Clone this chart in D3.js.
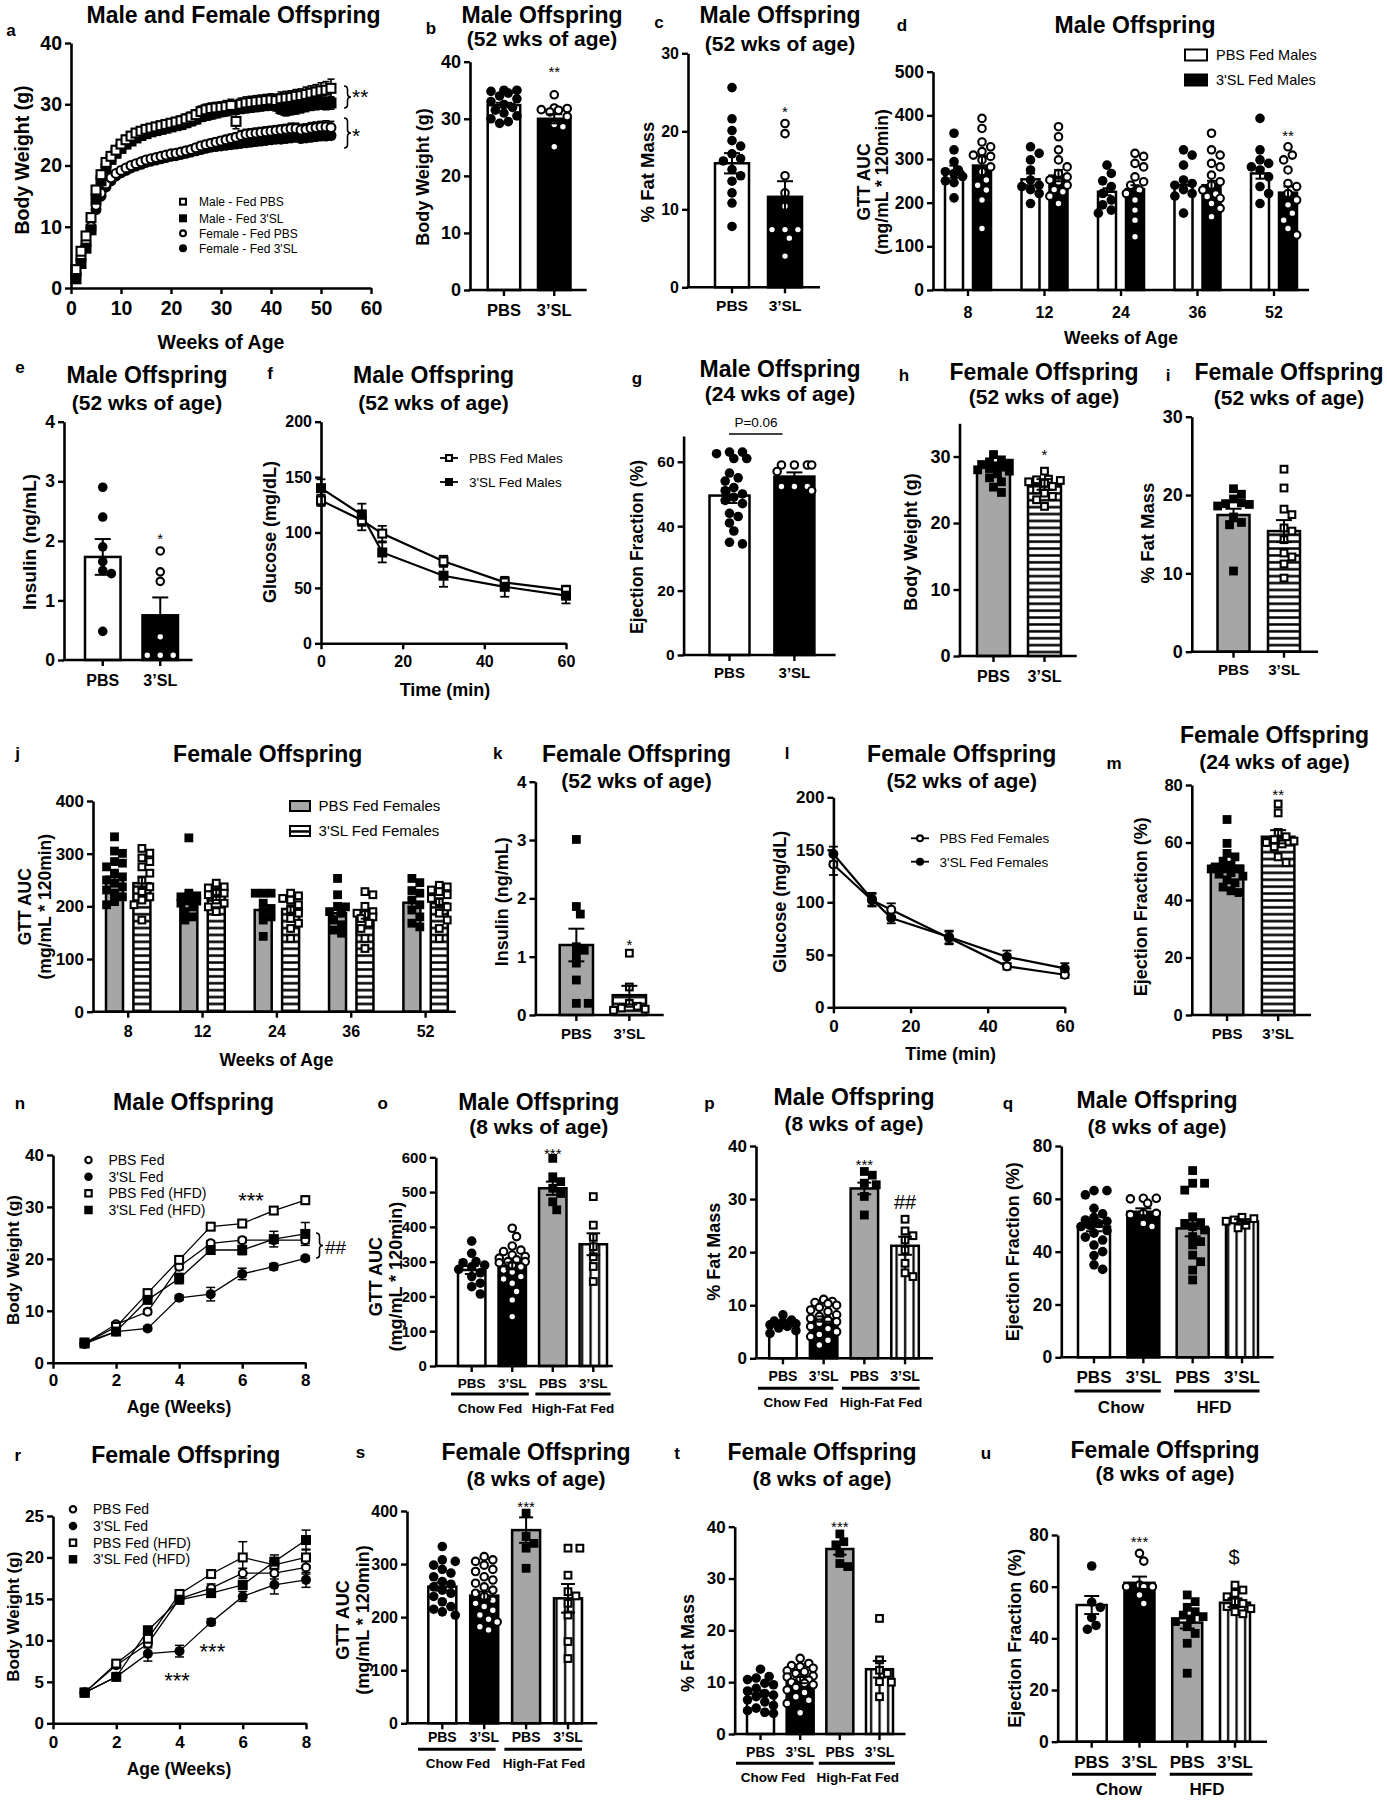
<!DOCTYPE html>
<html><head><meta charset="utf-8">
<script src="https://cdnjs.cloudflare.com/ajax/libs/d3/7.8.5/d3.min.js"></script>
<style>body{margin:0;background:#fff}</style>
</head><body>
<script>
// ---------------- DATA ----------------
// a
const a_weeks = [1,2,3,4,5,6,7,8,9,10,11,12,13,14,15,16,17,18,19,20,21,22,23,24,25,26,27,28,29,30,31,32,33,34,35,36,37,38,39,40,41,42,43,44,45,46,47,48,49,50,51,52];
const a_malePBS = [3.0,6.0,8.5,11.5,16.0,18.5,20.5,21.5,22.5,23.5, 24.2,24.8,25.3,25.6,25.9,26.1,26.3,26.5,26.7,26.9, 27.1,27.3,27.6,27.9,28.3,28.8,29.1,29.3,29.4,29.5, 29.6,29.8,27.2,30.0,30.2,30.3,30.4,30.5,30.6,30.7, 30.6,30.9,31.0,31.1,31.3,31.4,31.6,31.8,32.0,32.2, 32.3,32.6];
const a_male3SL = [1.5,4.0,6.5,9.5,14.5,17.5,19.5,21.0,22.0,22.8, 23.5,24.0,24.5,24.9,25.2,25.5,25.7,25.9,26.1,26.3, 26.5,26.7,27.0,27.3,27.6,28.0,28.2,28.4,28.6,28.8, 29.0,29.2,29.3,29.4,29.5,29.6,29.7,29.8,29.9,30.0, 29.8,29.3,29.0,29.2,29.4,29.6,29.8,30.0,30.1,30.2, 30.1,30.2];
const a_femalePBS = [2.5,5.0,7.5,10.0,13.5,15.5,17.0,18.0,18.7,19.2, 19.6,20.0,20.3,20.6,20.9,21.1,21.3,21.5,21.7,21.9, 22.0,22.2,22.4,22.6,22.9,23.2,23.4,23.6,23.8,24.0, 24.2,24.4,24.6,24.9,25.1,25.2,25.3,25.4,25.5,25.6, 25.7,25.8,25.9,26.0,26.0,25.8,25.9,26.1,26.2,26.3, 26.3,26.2];
const a_female3SL = [2.0,4.5,7.0,9.5,12.8,15.0,16.5,17.5,18.3,18.8, 19.2,19.6,19.9,20.2,20.5,20.7,20.9,21.1,21.3,21.5, 21.6,21.8,22.0,22.2,22.4,22.6,22.8,23.0,23.1,23.2, 23.3,23.4,23.5,23.6,23.7,23.8,23.9,24.0,24.1,24.2, 24.3,24.3,24.4,24.5,24.6,24.4,24.5,24.6,24.7,24.8, 24.8,24.9];
const a_malePBS_sem = [0.3,0.4,0.5,0.6,0.7,0.7,0.7,0.7,0.7,0.7, 0.7,0.7,0.7,0.7,0.7,0.7,0.7,0.7,0.7,0.7, 0.7,0.8,0.8,0.8,0.8,0.9,0.9,0.9,0.9,0.9, 1.0,1.0,1.2,1.0,1.0,1.0,1.0,1.0,1.0,1.0, 1.0,1.1,1.1,1.1,1.1,1.1,1.2,1.2,1.2,1.3, 1.4,1.5];
const a_male3SL_sem = [0.3,0.4,0.5,0.6,0.7,0.7,0.7,0.7,0.7,0.7, 0.7,0.7,0.7,0.7,0.7,0.7,0.7,0.7,0.7,0.7, 0.7,0.8,0.8,0.8,0.8,0.8,0.8,0.8,0.8,0.8, 0.9,0.9,0.9,0.9,0.9,0.9,0.9,0.9,0.9,0.9, 0.9,0.9,0.9,0.9,1.0,1.0,1.0,1.0,1.0,1.0, 1.0,1.0];
const a_femalePBS_sem = [0.2,0.3,0.4,0.5,0.5,0.5,0.5,0.5,0.5,0.5, 0.5,0.5,0.5,0.5,0.5,0.5,0.5,0.5,0.5,0.5, 0.6,0.6,0.6,0.6,0.6,0.7,0.7,0.7,0.7,0.7, 0.7,0.7,0.7,0.8,0.8,0.8,0.8,0.8,0.8,0.8, 0.8,0.8,0.8,0.9,0.9,0.9,0.9,0.9,0.9,0.9, 1.0,1.0];
const a_female3SL_sem = [0.2,0.3,0.4,0.5,0.5,0.5,0.5,0.5,0.5,0.5, 0.5,0.5,0.5,0.5,0.5,0.5,0.5,0.5,0.5,0.5, 0.5,0.5,0.5,0.5,0.6,0.6,0.6,0.6,0.6,0.6, 0.6,0.6,0.6,0.6,0.6,0.6,0.6,0.6,0.6,0.6, 0.6,0.6,0.6,0.6,0.6,0.6,0.6,0.6,0.6,0.6, 0.6,0.6];
const a_legend = ["Male - Fed PBS", "Male - Fed 3'SL", "Female - Fed PBS", "Female - Fed 3'SL"];

const twoGroups = ["PBS", "3’SL"];
const fourGroups = ["PBS", "3’SL", "PBS", "3’SL"];
// b
const b_mean = [32.4, 30.0], b_sem = [0.4, 0.8];
const b_PBS = [35, 35, 34.8, 34.5, 34, 33.5, 33, 32.5, 32, 31.5, 31, 30.5, 30, 29.5, 29.2];
const b_3SL = [34.2, 31.9, 31.8, 31.6, 31.5, 31.2, 30.4, 29, 28.6, 25.1];
// c
const c_mean = [15.9, 11.6], c_sem = [1.3, 2.0];
const c_PBS = [25.6, 21.6, 20.1, 18.8, 18.1, 17.1, 16.5, 16.2, 15.1, 14.3, 13.6, 12.1, 10.8, 7.8];
const c_3SL = [21.0, 19.7, 14.3, 12.1, 10.4, 7.4, 7.4, 7.4, 6.3, 4.0];
// d
const d_weeks = ["8", "12", "24", "36", "52"];
const d_PBS_mean = [271, 253.5, 225, 240, 267], d_PBS_sem = [14, 13.5, 8, 10, 12];
const d_3SL_mean = [285, 262, 231, 240, 223], d_3SL_sem = [22, 13, 9, 10, 14];
const d_PBS_pts = [[359,321,294,275,271,267,260,250,246,211],[328,313,298,275,252,240,237,230,221,198],[286,267,250,237,221,206,195,183,176],[321,309,286,252,244,240,230,221,215,176],[393,321,298,290,282,275,259,237,221,198]];
const d_3SL_pts = [[393,370,339,328,317,309,306,298,282,271,252,240,229,206,141],[374,351,321,298,282,267,259,252,248,240,230,225,215,198],[313,306,290,282,259,248,240,229,221,206,183,160,122],[359,321,309,290,282,263,248,240,229,220,214,210,198,187,168],[328,309,298,275,244,237,221,206,195,176,160,141,126]];
// e
const e_mean = [1.73, 0.75], e_sem = [0.3, 0.3];
const e_PBS = [2.9, 2.4, 1.9, 1.65, 1.5, 1.45, 0.48];
const e_3SL = [1.83, 1.48, 1.32, 0.39, 0.08, 0.08, 0.08];
// f
const f_time = [0, 10, 15, 30, 45, 60];
const f_PBS = [129, 111, 99, 74, 55, 48], f_PBS_err = [5, 9, 7, 5, 4, 4];
const f_3SL = [140, 116, 82, 61, 51, 43], f_3SL_err = [8, 10, 9, 10, 9, 7];
// g
const g_mean = [49.5, 55.4], g_sem = [2.3, 1.3];
const g_PBS = [63, 63, 62.5, 61, 61, 56.5, 55, 54, 52, 51, 50, 49, 48, 47, 44, 43, 41, 38.5, 35, 34.5];
const g_3SL = [59, 59, 59, 59, 57, 52.3, 52.3, 52.3, 51];
// h
const h_mean = [28.3, 25.8], h_sem = [0.45, 0.8];
const h_PBS = [30.3, 29.5, 29.2, 29, 28.8, 28.6, 28.4, 28.2, 28, 27.8, 27.4, 26.8, 26.2, 25.4, 24.6];
const h_3SL = [27.8, 26.6, 26.5, 26.4, 26.2, 26, 25.5, 25, 24.5, 24, 23.5, 22.5];
// i
const i_mean = [17.45, 15.4], i_sem = [0.8, 1.4];
const i_PBS = [20.8, 20.1, 19.5, 19, 18.9, 18.8, 18.6, 17.2, 16.5, 16.2, 10.3];
const i_3SL = [23.3, 20.9, 18.2, 17.5, 15.8, 15.4, 14.3, 12.6, 12.1, 11.2, 9.4];
// j
const j_weeks = ["8", "12", "24", "36", "52"];
const j_PBS_mean = [256, 215, 193, 187, 207], j_PBS_sem = [10, 11, 9, 6, 8];
const j_3SL_mean = [244, 221.5, 195, 183.6, 206], j_3SL_sem = [11, 9.5, 7, 7, 8];
const j_PBS_pts = [[332,305,300.6,285,282,275,263,256,250,244,237,231,225,218,209,203],[330,225,220,218,212,210,206,199,190,180,174],[225,225,225,206,196,190,180,174,143],[253,222,200,199,190,187,174,165,155,149],[253,245,230,225,212,203,193,180,168,161]];
const j_3SL_pts = [[310,301,292,285,275,263,250,237,228,218,212,203,174],[244,237,235,228,225,222,212,206,199,190],[225,220,215,212,203,193,187,177,168,158,139],[228,222,200,190,187,185,180,177,168,158,139,120],[240,237,231,228,222,215,209,199,187,174,158,139]];
// k
const k_mean = [1.2, 0.34], k_sem = [0.28, 0.16];
const k_PBS = [3.01, 1.86, 1.73, 1.17, 1.11, 1.03, 0.89, 0.6, 0.2, 0.2];
const k_3SL = [1.06, 0.48, 0.2, 0.15, 0.12, 0.1, 0.08];
// l
const l_time = [0, 10, 15, 30, 45, 60];
const l_PBS = [136, 102, 93, 66, 39, 31], l_PBS_err = [10, 6, 6, 6, 3, 3];
const l_3SL = [146, 103, 85, 67, 48, 37], l_3SL_err = [7, 6, 5, 6, 6, 5];
// m
const m_mean = [51.9, 62.0], m_sem = [1.4, 2.3];
const m_PBS = [68, 59.7, 56.2, 55, 53.5, 52, 51.5, 50.8, 50.8, 50.8, 49.5, 49, 48.3, 47, 46, 44.5, 43.2, 42.6];
const m_3SL = [73.4, 70.3, 63.5, 62, 61, 60.5, 60, 59.5, 58.5, 55, 53];
// n
const n_age = [1, 2, 3, 4, 5, 6, 7, 8];
const n_PBS = [3.7, 7.4, 9.8, 18.5, 23.0, 23.6, 23.6, 23.6], n_PBS_err = [0.3, 0.4, 0.5, 0.6, 0.5, 0.5, 0.6, 0.6];
const n_3SL = [3.6, 6.0, 6.6, 12.5, 13.2, 17.1, 18.5, 20.1], n_3SL_err = [0.3, 0.3, 0.4, 0.5, 1.3, 1.1, 0.6, 0.5];
const n_PBS_HFD = [3.7, 6.9, 13.4, 19.8, 26.2, 26.8, 29.3, 31.3], n_PBS_HFD_err = [0.3, 0.4, 0.5, 0.6, 0.6, 0.6, 0.7, 0.8];
const n_3SL_HFD = [3.9, 6.0, 12.1, 16.2, 21.7, 21.7, 23.8, 24.8], n_3SL_HFD_err = [0.3, 0.3, 0.6, 1.0, 0.8, 0.9, 1.5, 2.2];
const nr_legend = ["PBS Fed", "3'SL Fed", "PBS Fed (HFD)", "3'SL Fed (HFD)"];
// o
const o_mean = [276, 287.5, 511, 350], o_sem = [11.5, 9.5, 19, 31.5];
const o_pts = [[359,324,300,297,290,285,278,268,257,238,228,207],[396,372,345,333,329,319,315,310,305,300,300,297,290,285,276,270,257,250,238,214,190,142],[597,544,530,511,496,472,449],[487,405,370,343,314,286,243]];
// p
const p_mean = [6.3, 7.4, 32.0, 21.2], p_sem = [0.35, 0.5, 1.1, 1.7];
const p_pts = [[8.2,7.2,7.0,6.8,6.5,6.3,6.0,5.7,5.2,4.7],[11.1,10.7,10.5,10.3,10.0,9.6,9.1,8.8,8.2,7.9,7.5,7.2,6.9,6.6,6.0,5.6,5.0,4.5,4.1,3.4,2.5],[35.2,34.5,33.0,32.7,30.5,27.0],[26.2,24.0,23.1,22.3,20.4,17.9,16.1,15.4]];
// q
const q_mean = [49.5, 55.1, 48.8, 51.4], q_sem = [1.8, 1.3, 3.0, 0.9];
const q_pts = [[63.1,63.1,61.5,56.4,54.3,53,52,51.5,50.7,50,49.5,48,47,45.5,44.4,42.5,40,38.5,35,33.3],[60.2,60.2,60,58.3,54.5,54.5,54,50.7,49.5],[70.7,65.9,65.9,63.3,53.2,51,50.7,49.5,48.2,45.7,43.8,42.5,38.7,36.2,33,29.3],[53,52.5,52,51.5,50,49]];
// r
const r_age = [1, 2, 3, 4, 5, 6, 7, 8];
const r_PBS = [3.7, 7.0, 9.6, 15.0, 16.3, 18.1, 18.1, 18.8], r_PBS_err = [0.2, 0.3, 0.5, 0.5, 0.5, 0.6, 0.7, 0.8];
const r_3SL = [3.7, 5.6, 8.4, 8.7, 12.2, 15.3, 16.7, 17.3], r_3SL_err = [0.2, 0.3, 0.9, 0.7, 0.4, 0.6, 1.1, 0.9];
const r_PBS_HFD = [3.7, 7.2, 10.2, 15.6, 18.0, 20.0, 19.1, 20.0], r_PBS_HFD_err = [0.2, 0.3, 0.5, 0.4, 0.5, 1.9, 0.8, 1.0];
const r_3SL_HFD = [3.7, 5.6, 11.2, 14.9, 15.7, 16.7, 19.5, 22.1], r_3SL_HFD_err = [0.2, 0.3, 0.5, 0.5, 0.4, 0.5, 0.8, 1.2];
// s
const s_mean = [257.5, 240.5, 364, 235.5], s_sem = [7.5, 7.5, 24, 27];
const s_pts = [[333,308,305,298,290,283,276,267,262,257,251,245,239,229,220,215,210,204],[314,308,305,298,290,286,276,270,264,257,251,245,239,232,226,220,213,204,196,191,182,176],[396,352,339,330,292],[330,330,279,248,240,226,204,154,122]];
// t
const t_mean = [7.8, 10.4, 35.7, 12.5], t_sem = [0.6, 0.6, 1.1, 1.6];
const t_pts = [[12.5,11.1,10.8,10.5,9.8,9.5,8.8,8.3,7.8,7.5,7.2,6.6,6.2,5.5,5,4.5,4.2,4.0],[14.6,13.6,13.2,13.0,12.7,12.2,12.0,11.7,11.2,11.0,10.7,10.4,10.0,9.8,9.5,9.0,8.5,8.0,7.2,6.5,5.9,4.1],[38.6,37.1,36.5,34.9,32.9,32.3],[22.3,14.3,12.3,11.7,10.1,10.0,7.2]];
// u
const u_mean = [52.9, 61.5, 46.1, 53.8], u_sem = [3.5, 2.4, 2.3, 1.7];
const u_pts = [[68,54,52,48,45,43.5],[72.9,69.9,60.6,60,60,60,56.8,53.5],[56.8,54.2,52,50.3,49,48.4,47.5,46.5,44.5,41.9,38.1,26.5],[60.6,58.7,57.4,56.1,54.2,53.5,52.3,51.5,50.3,49.5]];

// ---------------- DRAWING ----------------
const FONT = '"Liberation Sans", Arial, Helvetica, sans-serif';
const svg = d3.select('body').append('svg').attr('width', 1387).attr('height', 1800)
  .attr('font-family', FONT).style('background', '#fff');
svg.append('rect').attr('width', 1387).attr('height', 1800).attr('fill', '#fff');
const defs = svg.append('defs');
const hp = defs.append('pattern').attr('id', 'hstripe').attr('patternUnits', 'userSpaceOnUse').attr('width', 10).attr('height', 6.9);
hp.append('rect').attr('width', 10).attr('height', 6.9).attr('fill', '#fff');
hp.append('rect').attr('width', 10).attr('height', 2.5).attr('y', 2.2).attr('fill', '#000');
const vp = defs.append('pattern').attr('id', 'vstripe').attr('patternUnits', 'userSpaceOnUse').attr('width', 8.5).attr('height', 10);
vp.append('rect').attr('width', 8.5).attr('height', 10).attr('fill', '#fff');
vp.append('rect').attr('width', 2.2).attr('height', 10).attr('x', 3).attr('fill', '#000');

function T(x, yc, s, fs, o = {}) {
  let tr = `translate(${x},${yc})`;
  if (o.r) tr += ' rotate(-90)';
  if (o.k) tr += ` scale(${o.k},1)`;
  return svg.append('text').attr('transform', tr).attr('x', 0).attr('y', (o.b ?? 0.36) * fs)
    .attr('font-size', fs).attr('font-weight', o.w || 'bold').attr('text-anchor', o.a || 'middle')
    .attr('fill', '#000').text(s);
}
function title(x, y1, l1, y2, l2) { T(x, y1, l1, 23); if (l2) T(x, y2, l2, 21); }
function letter(x, y, s) { T(x, y, s, 17); }

function mk(g, x, y, shape, size) {
  const filled = shape[0] === 'f';
  const sw = 2.1;
  if (shape[1] === 'c') {
    g.append('circle').attr('cx', x).attr('cy', y).attr('r', filled ? size / 2 : size / 2 - sw / 2)
      .attr('fill', filled ? '#000' : '#fff').attr('stroke', '#000').attr('stroke-width', filled ? 0 : sw);
  } else {
    const s = filled ? size : size - sw;
    g.append('rect').attr('x', x - s / 2).attr('y', y - s / 2).attr('width', s).attr('height', s)
      .attr('fill', filled ? '#000' : '#fff').attr('stroke', '#000').attr('stroke-width', filled ? 0 : sw);
  }
}
function ebar(g, x, yTop, yBottom, cap, sw) {
  g.append('line').attr('x1', x).attr('x2', x).attr('y1', yTop).attr('y2', yBottom).attr('stroke', '#000').attr('stroke-width', sw);
  [yTop, yBottom].forEach(yy => g.append('line').attr('x1', x - cap / 2).attr('x2', x + cap / 2).attr('y1', yy).attr('y2', yy).attr('stroke', '#000').attr('stroke-width', sw));
}
function swarm(vals, y, r, maxHalf) {
  const idx = vals.map((v, i) => i).sort((a, b) => vals[b] - vals[a]);
  const placed = [], off = new Array(vals.length).fill(0);
  idx.forEach(i => {
    const py = y(vals[i]);
    let best = 0, bestScore = -Infinity, done = false;
    for (let k = 0; k <= 14 && !done; k++) {
      const cands = k === 0 ? [0] : [k * r * 0.9, -k * r * 0.9];
      for (const ox of cands) {
        if (Math.abs(ox) > maxHalf) continue;
        let minD = Infinity;
        placed.forEach(p => { const dd = Math.hypot(p.x - ox, p.y - py); if (dd < minD) minD = dd; });
        if (minD >= 2 * r * 0.92) { best = ox; done = true; break; }
        if (minD > bestScore) { bestScore = minD; best = ox; }
      }
    }
    off[i] = best; placed.push({ x: best, y: py });
  });
  return off;
}
function styleAxis(a, fs) {
  a.attr('font-family', null).attr('font-size', null);
  a.select('.domain').attr('stroke', '#000').attr('stroke-width', 2.6);
  a.selectAll('.tick line').attr('stroke', '#000').attr('stroke-width', 2.4);
  a.selectAll('.tick text').attr('fill', '#000').attr('font-size', fs).attr('font-weight', 'bold');
}
function yAxis(g, y, x0, ticks, fs) {
  const a = g.append('g').attr('transform', `translate(${x0},0)`)
    .call(d3.axisLeft(y).tickValues(ticks).tickSize(6).tickPadding(3).tickSizeOuter(0).tickFormat(d3.format('d')));
  styleAxis(a, fs);
}
function ylab(c) {
  if (!c) return;
  T(c.x, c.y, c.t, c.fs, { r: 1 });
  if (c.t2) T(c.x2, c.y, c.t2, c.fs, { r: 1 });
}
function fillOf(f) { return { white: '#fff', black: '#000', gray: '#a6a6a6', hstripe: 'url(#hstripe)', vstripe: 'url(#vstripe)' }[f]; }
function padIn(n, L, R, w) { return n > 1 ? ((R - L) - w * n) / ((R - L) - w) : 0; }
function sizeOf(shape) { return shape[1] === 'c' ? 9.6 : 8.8; }

function drawBars(g, x0, bw, y, means, sems, fills, pts, shapes) {
  means.forEach((m, i) => {
    g.append('rect').attr('x', x0[i]).attr('y', y(m)).attr('width', bw).attr('height', y(0) - y(m))
      .attr('fill', fillOf(fills[i])).attr('stroke', '#000').attr('stroke-width', 2.5);
  });
  means.forEach((m, i) => {
    const cx = x0[i] + bw / 2, sz = sizeOf(shapes[i]);
    const off = swarm(pts[i], y, sz / 2, bw / 2 + 1);
    pts[i].forEach((v, j) => mk(g, cx + off[j], y(v), shapes[i], sz));
  });
  means.forEach((m, i) => {
    const cx = x0[i] + bw / 2;
    ebar(g, cx, y(m + sems[i]), y(Math.max(0, m - sems[i])), Math.min(bw * 0.5, 16), 2);
  });
}

function barPanel(c) {
  const g = svg.append('g');
  const ids = c.labels.map((d, i) => 'c' + i);
  const y = d3.scaleLinear().domain([0, c.ymax]).range([c.yBot, c.yTop]);
  const x = d3.scaleBand().domain(ids).range([c.L, c.R]).paddingInner(padIn(ids.length, c.L, c.R, c.w));
  const bw = x.bandwidth();
  drawBars(g, ids.map(id => x(id)), bw, y, c.means, c.sems, c.fills, c.pts, c.shapes);
  yAxis(g, y, c.ax0, c.yticks, c.tfs);
  const p = (c.labY - c.yBot) - 6 - 0.352 * c.lfs;
  const xa = g.append('g').attr('transform', `translate(0,${c.yBot})`)
    .call(d3.axisBottom(x).tickSize(6).tickPadding(p).tickSizeOuter(0).tickFormat((d, i) => c.labels[i]));
  xa.select('.domain').remove();
  styleAxis(xa, c.lfs);
  g.append('line').attr('x1', c.ax0 - 1.3).attr('x2', c.ax1).attr('y1', c.yBot).attr('y2', c.yBot).attr('stroke', '#000').attr('stroke-width', 2.6);
  (c.stars || []).forEach(s => T(x(ids[s.i]) + bw / 2 + (s.dx || 0), s.y, s.t, s.fs || 15, { w: s.w || 'normal', b: s.b ?? 0.57 }));
  if (c.under) {
    c.under.segs.forEach((sg, i) => {
      g.append('line').attr('x1', sg[0]).attr('x2', sg[1]).attr('y1', c.under.y).attr('y2', c.under.y).attr('stroke', '#000').attr('stroke-width', 3);
      T(c.under.lx[i], c.under.ly, c.under.labels[i], c.under.fs);
    });
  }
  ylab(c.ylab);
}

function groupPanel(c) {
  const g = svg.append('g');
  const y = d3.scaleLinear().domain([0, c.ymax]).range([c.yBot, c.yTop]);
  const x = d3.scaleBand().domain(c.groups).range([c.L, c.R]).paddingInner(padIn(c.groups.length, c.L, c.R, c.gw));
  const xi = d3.scaleBand().domain(['PBS', '3SL']).range([0, x.bandwidth()]).paddingInner(padIn(2, 0, x.bandwidth(), c.bw));
  const bw = xi.bandwidth();
  c.groups.forEach((gr, k) => {
    drawBars(g, [x(gr) + xi('PBS'), x(gr) + xi('3SL')], bw, y,
      [c.means[0][k], c.means[1][k]], [c.sems[0][k], c.sems[1][k]], c.fills, [c.pts[0][k], c.pts[1][k]], c.shapes);
  });
  yAxis(g, y, c.ax0, c.yticks, c.tfs);
  const p = (c.labY - c.yBot) - 6 - 0.352 * c.lfs;
  const xa = g.append('g').attr('transform', `translate(0,${c.yBot})`)
    .call(d3.axisBottom(x).tickSize(6).tickPadding(p).tickSizeOuter(0));
  xa.select('.domain').remove();
  styleAxis(xa, c.lfs);
  g.append('line').attr('x1', c.ax0 - 1.3).attr('x2', c.ax1).attr('y1', c.yBot).attr('y2', c.yBot).attr('stroke', '#000').attr('stroke-width', 2.6);
  (c.stars || []).forEach(s => T(x(c.groups[s.g]) + xi(s.b) + bw / 2, s.y, s.t, 15, { w: 'normal', b: 0.57 }));
  c.legend.labels.forEach((lab, i) => {
    const ly = c.legend.ys[i];
    g.append('rect').attr('x', c.legend.x).attr('y', ly - c.legend.h / 2).attr('width', c.legend.w).attr('height', c.legend.h)
      .attr('fill', fillOf(c.fills[i])).attr('stroke', '#000').attr('stroke-width', 2);
    T(c.legend.tx, ly, lab, c.legend.fs, { w: 'normal', a: 'start' });
  });
  T(c.xlab.x, c.xlab.y, c.xlab.t, c.xlab.fs);
  ylab(c.ylab);
}

function linePanel(c) {
  const g = svg.append('g');
  const x = d3.scaleLinear().domain(c.xdom).range([c.x0, c.x1]);
  const y = d3.scaleLinear().domain(c.ydom).range([c.yBot, c.yTop]);
  if (c.lw) c.series.forEach(s => g.append('path').datum(s.vals)
    .attr('d', d3.line().x((v, i) => x(c.xs[i])).y(v => y(v))).attr('fill', 'none').attr('stroke', '#000').attr('stroke-width', c.lw));
  c.series.forEach(s => s.vals.forEach((v, i) => ebar(g, x(c.xs[i]), y(v + s.errs[i]), y(v - s.errs[i]), c.cap, c.ew)));
  c.series.forEach(s => s.vals.forEach((v, i) => mk(g, x(c.xs[i]), y(v), s.shape, c.ms)));
  const p = (c.labY - c.yBot) - 6 - 0.352 * c.tfs;
  const xa = g.append('g').attr('transform', `translate(0,${c.yBot})`)
    .call(d3.axisBottom(x).tickValues(c.xticks).tickSize(6).tickPadding(p).tickSizeOuter(0).tickFormat(d3.format('d')));
  styleAxis(xa, c.tfs);
  yAxis(g, y, c.x0, c.yticks, c.tfs);
  if (c.legend) {
    const L = c.legend;
    c.series.forEach((s, i) => {
      if (L.line) g.append('line').attr('x1', L.x - 9).attr('x2', L.x + 9).attr('y1', L.ys[i]).attr('y2', L.ys[i]).attr('stroke', '#000').attr('stroke-width', 1.8);
      mk(g, L.x, L.ys[i], s.shape, L.ms);
      T(L.tx, L.ys[i], L.labels[i], L.fs, { w: 'normal', a: 'start' });
    });
  }
  T(c.xlab.x, c.xlab.y, c.xlab.t, c.xlab.fs);
  ylab(c.ylab);
}
function brace(x, y1, y2, w) {
  const ym = (y1 + y2) / 2, q = w / 2;
  svg.append('path').attr('d', `M${x},${y1} Q${x + q},${y1} ${x + q},${y1 + q} L${x + q},${ym - q} Q${x + q},${ym} ${x + w},${ym} Q${x + q},${ym} ${x + q},${ym + q} L${x + q},${y2 - q} Q${x + q},${y2} ${x},${y2}`)
    .attr('fill', 'none').attr('stroke', '#000').attr('stroke-width', 1.6);
}

// ===== Panel a =====
title(233.5, 15, 'Male and Female Offspring'); letter(11, 30, 'a');
linePanel({ x0: 71, x1: 371, xdom: [0, 60], yBot: 288, yTop: 43, ydom: [0, 40], xs: a_weeks,
  xticks: [0, 10, 20, 30, 40, 50, 60], yticks: [0, 10, 20, 30, 40], tfs: 19.5, labY: 308, cap: 7, ew: 1.6, ms: 11, lw: 0,
  series: [
    { vals: a_female3SL, errs: a_female3SL_sem, shape: 'fc' },
    { vals: a_femalePBS, errs: a_femalePBS_sem, shape: 'oc' },
    { vals: a_male3SL, errs: a_male3SL_sem, shape: 'fs' },
    { vals: a_malePBS, errs: a_malePBS_sem, shape: 'os' }],
  xlab: { x: 221, y: 342, t: 'Weeks of Age', fs: 19.5 },
  ylab: { x: 22, y: 160, t: 'Body Weight (g)', fs: 19.5 } });
const aLegY = [201.7, 218.3, 233.3, 248.3], aLegS = ['os', 'fs', 'oc', 'fc'];
a_legend.forEach((lab, i) => { mk(svg, 183, aLegY[i], aLegS[i], 8); T(199, aLegY[i], lab, 12, { w: 'normal', a: 'start' }); });
brace(344, 86, 108, 7); T(352, 92, '**', 21, { w: 'normal', a: 'start', b: 0.57 });
brace(344, 118, 148, 7); T(352, 131, '*', 21, { w: 'normal', a: 'start', b: 0.57 });

// ===== Panel b =====
title(542, 15, 'Male Offspring', 38, '(52 wks of age)'); letter(431, 28, 'b');
barPanel({ ax0: 470, ax1: 586.7, yBot: 290, yTop: 61.7, ymax: 40, yticks: [0, 10, 20, 30, 40], L: 487.7, R: 570.5, w: 32.5,
  labels: twoGroups, means: b_mean, sems: b_sem, fills: ['white', 'black'], pts: [b_PBS, b_3SL], shapes: ['fc', 'oc'],
  tfs: 18, lfs: 16.5, labY: 310, stars: [{ i: 1, t: '**', y: 68 }], ylab: { x: 423, y: 177, t: 'Body Weight (g)', fs: 18 } });

// ===== Panel c =====
title(780, 15, 'Male Offspring', 43, '(52 wks of age)'); letter(659, 22, 'c');
barPanel({ ax0: 688, ax1: 820, yBot: 287.3, yTop: 53.3, ymax: 30, yticks: [0, 10, 20, 30], L: 715, R: 802, w: 34,
  labels: twoGroups, means: c_mean, sems: c_sem, fills: ['white', 'black'], pts: [c_PBS, c_3SL], shapes: ['fc', 'oc'],
  tfs: 16, lfs: 15.5, labY: 305, stars: [{ i: 1, t: '*', y: 108 }], ylab: { x: 647, y: 172, t: '% Fat Mass', fs: 18.5 } });

// ===== Panel d =====
T(1135, 25, 'Male Offspring', 23); letter(902, 25, 'd');
groupPanel({ ax0: 933, ax1: 1309, yBot: 290, yTop: 71.7, ymax: 500, yticks: [0, 100, 200, 300, 400, 500],
  L: 945, R: 1297, gw: 46, bw: 18, groups: d_weeks, means: [d_PBS_mean, d_3SL_mean], sems: [d_PBS_sem, d_3SL_sem],
  pts: [d_PBS_pts, d_3SL_pts], fills: ['white', 'black'], shapes: ['fc', 'oc'], tfs: 17.5, lfs: 16, labY: 312,
  stars: [{ g: 4, b: '3SL', t: '**', y: 132 }],
  legend: { x: 1185, w: 22, h: 11, ys: [55, 80], tx: 1216, fs: 14.5, labels: ['PBS Fed Males', "3'SL Fed Males"] },
  xlab: { x: 1121, y: 338, t: 'Weeks of Age', fs: 17.5 },
  ylab: { x: 864, x2: 882, y: 182, t: 'GTT AUC', t2: '(mg/mL * 120min)', fs: 17.5 } });

// ===== Panel e =====
title(147, 375, 'Male Offspring', 402, '(52 wks of age)'); letter(20, 367, 'e');
barPanel({ ax0: 64, ax1: 192.5, yBot: 660, yTop: 421.7, ymax: 4, yticks: [0, 1, 2, 3, 4], L: 85, R: 178, w: 35.5,
  labels: twoGroups, means: e_mean, sems: e_sem, fills: ['white', 'black'], pts: [e_PBS, e_3SL], shapes: ['fc', 'oc'],
  tfs: 17.5, lfs: 16, labY: 680, stars: [{ i: 1, t: '*', y: 535 }], ylab: { x: 29, y: 542, t: 'Insulin (ng/mL)', fs: 19 } });

// ===== Panel f =====
title(433.5, 375, 'Male Offspring', 402, '(52 wks of age)'); letter(270, 373, 'f');
linePanel({ x0: 321, x1: 566, xdom: [0, 60], yBot: 643.3, yTop: 421.7, ydom: [0, 200], xs: f_time,
  xticks: [0, 20, 40, 60], yticks: [0, 50, 100, 150, 200], tfs: 16, labY: 661.7, cap: 9, ew: 1.8, ms: 10, lw: 2.2,
  series: [{ vals: f_PBS, errs: f_PBS_err, shape: 'os' }, { vals: f_3SL, errs: f_3SL_err, shape: 'fs' }],
  legend: { x: 449, tx: 469, ys: [458, 482], fs: 13.5, ms: 8, line: true, labels: ['PBS Fed Males', "3'SL Fed Males"] },
  xlab: { x: 445, y: 690, t: 'Time (min)', fs: 18 },
  ylab: { x: 270, y: 532, t: 'Glucose (mg/dL)', fs: 18 } });

// ===== Panel g =====
title(780, 368.3, 'Male Offspring', 393.3, '(24 wks of age)'); letter(637, 378, 'g');
barPanel({ ax0: 683.6, ax1: 835.6, yBot: 655, yTop: 436, ymax: 68, yticks: [0, 20, 40, 60], L: 709.5, R: 814.4, w: 40,
  labels: twoGroups, means: g_mean, sems: g_sem, fills: ['white', 'black'], pts: [g_PBS, g_3SL], shapes: ['fc', 'oc'],
  tfs: 15.5, lfs: 15, labY: 673, ylab: { x: 637, y: 547, t: 'Ejection Fraction (%)', fs: 17.5 } });
svg.append('line').attr('x1', 729).attr('x2', 782.5).attr('y1', 434).attr('y2', 434).attr('stroke', '#000').attr('stroke-width', 1.5);
T(756, 421.7, 'P=0.06', 13.5, { w: 'normal' });

// ===== Panel h =====
title(1044, 371.7, 'Female Offspring', 396.7, '(52 wks of age)'); letter(904, 375, 'h');
barPanel({ ax0: 959.5, ax1: 1076.7, yBot: 656, yTop: 423.3, ymax: 35, yticks: [0, 10, 20, 30], L: 977, R: 1061, w: 33,
  labels: twoGroups, means: h_mean, sems: h_sem, fills: ['gray', 'hstripe'], pts: [h_PBS, h_3SL], shapes: ['fs', 'os'],
  tfs: 18, lfs: 16, labY: 676.7, stars: [{ i: 1, t: '*', y: 451.7 }], ylab: { x: 911, y: 542, t: 'Body Weight (g)', fs: 18 } });

// ===== Panel i =====
title(1289, 371.7, 'Female Offspring', 397, '(52 wks of age)'); letter(1168, 375, 'i');
barPanel({ ax0: 1191.8, ax1: 1318, yBot: 651.7, yTop: 416.7, ymax: 30, yticks: [0, 10, 20, 30], L: 1217.5, R: 1300, w: 32,
  labels: twoGroups, means: i_mean, sems: i_sem, fills: ['gray', 'hstripe'], pts: [i_PBS, i_3SL], shapes: ['fs', 'os'],
  tfs: 18, lfs: 15, labY: 670, ylab: { x: 1147.5, y: 533, t: '% Fat Mass', fs: 18.5 } });

// ===== Panel j =====
T(267.7, 753.3, 'Female Offspring', 23); letter(17.7, 753, 'j');
groupPanel({ ax0: 93, ax1: 455.8, yBot: 1011.7, yTop: 801, ymax: 400, yticks: [0, 100, 200, 300, 400],
  L: 106, R: 447.8, gw: 44.4, bw: 17, groups: j_weeks, means: [j_PBS_mean, j_3SL_mean], sems: [j_PBS_sem, j_3SL_sem],
  pts: [j_PBS_pts, j_3SL_pts], fills: ['gray', 'hstripe'], shapes: ['fs', 'os'], tfs: 17, lfs: 16, labY: 1031.7,
  legend: { x: 290, w: 20, h: 10, ys: [806, 831], tx: 318.6, fs: 15, labels: ['PBS Fed Females', "3'SL Fed Females"] },
  xlab: { x: 276.5, y: 1060, t: 'Weeks of Age', fs: 17.5 },
  ylab: { x: 24.3, x2: 44.2, y: 906.7, t: 'GTT AUC', t2: '(mg/mL * 120min)', fs: 17.5 } });

// ===== Panel k =====
title(636.5, 753.3, 'Female Offspring', 780, '(52 wks of age)'); letter(497.8, 753, 'k');
barPanel({ ax0: 535.4, ax1: 663.7, yBot: 1015, yTop: 781.7, ymax: 4, yticks: [0, 1, 2, 3, 4], L: 559.7, R: 646, w: 33.3,
  labels: twoGroups, means: k_mean, sems: k_sem, fills: ['gray', 'hstripe'], pts: [k_PBS, k_3SL], shapes: ['fs', 'os'],
  tfs: 17, lfs: 15, labY: 1033.3, stars: [{ i: 1, t: '*', y: 941.7 }], ylab: { x: 502, y: 901.7, t: 'Insulin (ng/mL)', fs: 18 } });

// ===== Panel l =====
title(961.7, 753.3, 'Female Offspring', 780, '(52 wks of age)'); letter(787, 753, 'l');
linePanel({ x0: 833.4, x1: 1064.8, xdom: [0, 60], yBot: 1007.3, yTop: 797.3, ydom: [0, 200], xs: l_time,
  xticks: [0, 20, 40, 60], yticks: [0, 50, 100, 150, 200], tfs: 17, labY: 1026, cap: 9, ew: 1.8, ms: 10, lw: 2.2,
  series: [{ vals: l_PBS, errs: l_PBS_err, shape: 'oc' }, { vals: l_3SL, errs: l_3SL_err, shape: 'fc' }],
  legend: { x: 920, tx: 939.6, ys: [838.3, 861.7], fs: 13.5, ms: 8, line: true, labels: ['PBS Fed Females', "3'SL Fed Females"] },
  xlab: { x: 950.6, y: 1053.3, t: 'Time (min)', fs: 18 },
  ylab: { x: 780, y: 901.7, t: 'Glucose (mg/dL)', fs: 18 } });

// ===== Panel m =====
title(1274.5, 735, 'Female Offspring', 761.7, '(24 wks of age)'); letter(1114, 763, 'm');
barPanel({ ax0: 1191.8, ax1: 1311, yBot: 1015, yTop: 785, ymax: 80, yticks: [0, 20, 40, 60, 80], L: 1210.8, R: 1294.4, w: 32.5,
  labels: twoGroups, means: m_mean, sems: m_sem, fills: ['gray', 'hstripe'], pts: [m_PBS, m_3SL], shapes: ['fs', 'os'],
  tfs: 16.5, lfs: 15, labY: 1033.3, stars: [{ i: 1, t: '**', y: 791.7 }], ylab: { x: 1141, y: 906.7, t: 'Ejection Fraction (%)', fs: 18 } });

// ===== Panel n =====
T(193.6, 1101.7, 'Male Offspring', 23); letter(20, 1103, 'n');
linePanel({ x0: 53, x1: 305.3, xdom: [0, 8], yBot: 1362.7, yTop: 1155, ydom: [0, 40], xs: n_age,
  xticks: [0, 2, 4, 6, 8], yticks: [0, 10, 20, 30, 40], tfs: 17, labY: 1380, cap: 9, ew: 1.5, ms: 10, lw: 1.3,
  series: [{ vals: n_PBS, errs: n_PBS_err, shape: 'oc' }, { vals: n_3SL, errs: n_3SL_err, shape: 'fc' },
    { vals: n_PBS_HFD, errs: n_PBS_HFD_err, shape: 'os' }, { vals: n_3SL_HFD, errs: n_3SL_HFD_err, shape: 'fs' }],
  legend: { x: 88.5, tx: 108.4, ys: [1160, 1176.7, 1193.3, 1210], fs: 14, ms: 8.5, labels: nr_legend },
  xlab: { x: 179, y: 1406.7, t: 'Age (Weeks)', fs: 17.5 },
  ylab: { x: 13.3, y: 1260, t: 'Body Weight (g)', fs: 17 } });
T(251, 1195, '***', 22, { w: 'normal', b: 0.57 });
brace(316, 1233, 1258, 7); T(325, 1247, '##', 19, { w: 'normal', a: 'start' });

// ===== Panel o =====
title(538.7, 1101.7, 'Male Offspring', 1126.7, '(8 wks of age)'); letter(382.7, 1103, 'o');
barPanel({ ax0: 435.8, ax1: 612.8, yBot: 1366, yTop: 1157.3, ymax: 600, yticks: [0, 100, 200, 300, 400, 500, 600], L: 458, R: 607, w: 27.4,
  labels: fourGroups, means: o_mean, sems: o_sem, fills: ['white', 'black', 'gray', 'vstripe'], pts: o_pts, shapes: ['fc', 'oc', 'fs', 'os'],
  tfs: 15, lfs: 13.5, labY: 1383.3, stars: [{ i: 2, t: '***', y: 1150 }],
  under: { y: 1394, segs: [[451, 528.8], [535.4, 610.6]], labels: ['Chow Fed', 'High-Fat Fed'], lx: [489.9, 573], ly: 1408.3, fs: 13.5 },
  ylab: { x: 376, x2: 396, y: 1276.7, t: 'GTT AUC', t2: '(mg/mL * 120min)', fs: 18 } });

// ===== Panel p =====
title(854, 1096.7, 'Male Offspring', 1123.3, '(8 wks of age)'); letter(709.5, 1103, 'p');
barPanel({ ax0: 756, ax1: 933, yBot: 1358.3, yTop: 1146, ymax: 40, yticks: [0, 10, 20, 30, 40], L: 769.2, R: 918.8, w: 27.5,
  labels: fourGroups, means: p_mean, sems: p_sem, fills: ['white', 'black', 'gray', 'vstripe'], pts: p_pts, shapes: ['fc', 'oc', 'fs', 'os'],
  tfs: 17, lfs: 14, labY: 1376, stars: [{ i: 2, t: '***', y: 1161.7 }, { i: 3, t: '##', y: 1201.7, fs: 20, b: 0.36 }],
  under: { y: 1388.3, segs: [[758, 833.4], [842, 919.7]], labels: ['Chow Fed', 'High-Fat Fed'], lx: [795.7, 881], ly: 1401.7, fs: 13.5 },
  ylab: { x: 714, y: 1251.7, t: '% Fat Mass', fs: 18 } });

// ===== Panel q =====
title(1157, 1099.3, 'Male Offspring', 1126, '(8 wks of age)'); letter(1008, 1103, 'q');
barPanel({ ax0: 1061.3, ax1: 1273.7, yBot: 1357.3, yTop: 1146, ymax: 80, yticks: [0, 20, 40, 60, 80], L: 1078, R: 1258, w: 32,
  labels: fourGroups, means: q_mean, sems: q_sem, fills: ['white', 'black', 'gray', 'vstripe'], pts: q_pts, shapes: ['fc', 'oc', 'fs', 'os'],
  tfs: 17.5, lfs: 17, labY: 1376.7,
  under: { y: 1391, segs: [[1074.5, 1160.8], [1174, 1259.5]], labels: ['Chow', 'HFD'], lx: [1121, 1214], ly: 1406.7, fs: 17 },
  ylab: { x: 1012.6, y: 1251.7, t: 'Ejection Fraction (%)', fs: 18 } });

// ===== Panel r =====
T(185.8, 1455, 'Female Offspring', 23); letter(17.7, 1455, 'r');
linePanel({ x0: 53, x1: 306, xdom: [0, 8], yBot: 1723.3, yTop: 1516, ydom: [0, 25], xs: r_age,
  xticks: [0, 2, 4, 6, 8], yticks: [0, 5, 10, 15, 20, 25], tfs: 17, labY: 1741.7, cap: 9, ew: 1.5, ms: 10, lw: 1.3,
  series: [{ vals: r_PBS, errs: r_PBS_err, shape: 'oc' }, { vals: r_3SL, errs: r_3SL_err, shape: 'fc' },
    { vals: r_PBS_HFD, errs: r_PBS_HFD_err, shape: 'os' }, { vals: r_3SL_HFD, errs: r_3SL_HFD_err, shape: 'fs' }],
  legend: { x: 73, tx: 93, ys: [1509.3, 1526, 1542.7, 1559.3], fs: 14, ms: 8.5, labels: nr_legend },
  xlab: { x: 179, y: 1768.3, t: 'Age (Weeks)', fs: 17.5 },
  ylab: { x: 13.3, y: 1616.7, t: 'Body Weight (g)', fs: 17 } });
T(212.4, 1646.7, '***', 22, { w: 'normal', b: 0.57 });
T(177, 1675, '***', 22, { w: 'normal', b: 0.57 });

// ===== Panel s =====
title(536, 1451.7, 'Female Offspring', 1478.3, '(8 wks of age)'); letter(360.6, 1451.7, 's');
barPanel({ ax0: 407, ax1: 597.3, yBot: 1723.3, yTop: 1511, ymax: 400, yticks: [0, 100, 200, 300, 400], L: 428.3, R: 582, w: 28,
  labels: fourGroups, means: s_mean, sems: s_sem, fills: ['white', 'black', 'gray', 'vstripe'], pts: s_pts, shapes: ['fc', 'oc', 'fs', 'os'],
  tfs: 16, lfs: 14, labY: 1736.7, stars: [{ i: 2, t: '***', y: 1503 }],
  under: { y: 1749.3, segs: [[418, 495.6], [504.4, 582]], labels: ['Chow Fed', 'High-Fat Fed'], lx: [458, 544], ly: 1762.7, fs: 13.5 },
  ylab: { x: 343, x2: 363, y: 1620, t: 'GTT AUC', t2: '(mg/mL * 120min)', fs: 18 } });

// ===== Panel t =====
title(822, 1451.7, 'Female Offspring', 1478.3, '(8 wks of age)'); letter(677, 1453, 't');
barPanel({ ax0: 734.7, ax1: 905.5, yBot: 1734, yTop: 1526.7, ymax: 40, yticks: [0, 10, 20, 30, 40], L: 747, R: 893, w: 27,
  labels: fourGroups, means: t_mean, sems: t_sem, fills: ['white', 'black', 'gray', 'vstripe'], pts: t_pts, shapes: ['fc', 'oc', 'fs', 'os'],
  tfs: 17, lfs: 14, labY: 1751.7, stars: [{ i: 2, t: '***', y: 1523.3 }],
  under: { y: 1763.3, segs: [[736, 813.5], [818.8, 895]], labels: ['Chow Fed', 'High-Fat Fed'], lx: [773, 857.7], ly: 1776.7, fs: 13.5 },
  ylab: { x: 688, y: 1643, t: '% Fat Mass', fs: 18 } });

// ===== Panel u =====
title(1165, 1450, 'Female Offspring', 1473.3, '(8 wks of age)'); letter(986, 1453, 'u');
barPanel({ ax0: 1057.7, ax1: 1267, yBot: 1741.7, yTop: 1535, ymax: 80, yticks: [0, 20, 40, 60, 80], L: 1076.7, R: 1250, w: 30,
  labels: fourGroups, means: u_mean, sems: u_sem, fills: ['white', 'black', 'gray', 'vstripe'], pts: u_pts, shapes: ['fc', 'oc', 'fs', 'os'],
  tfs: 17.5, lfs: 17, labY: 1761.7, stars: [{ i: 1, t: '***', y: 1538 }, { i: 3, t: '$', y: 1556.7, fs: 20, b: 0.36, dx: -1 }],
  under: { y: 1774.3, segs: [[1072, 1156], [1169.7, 1252.4]], labels: ['Chow', 'HFD'], lx: [1118.8, 1207], ly: 1789.3, fs: 17 },
  ylab: { x: 1015, y: 1638.3, t: 'Ejection Fraction (%)', fs: 18 } });
</script>
</body></html>
